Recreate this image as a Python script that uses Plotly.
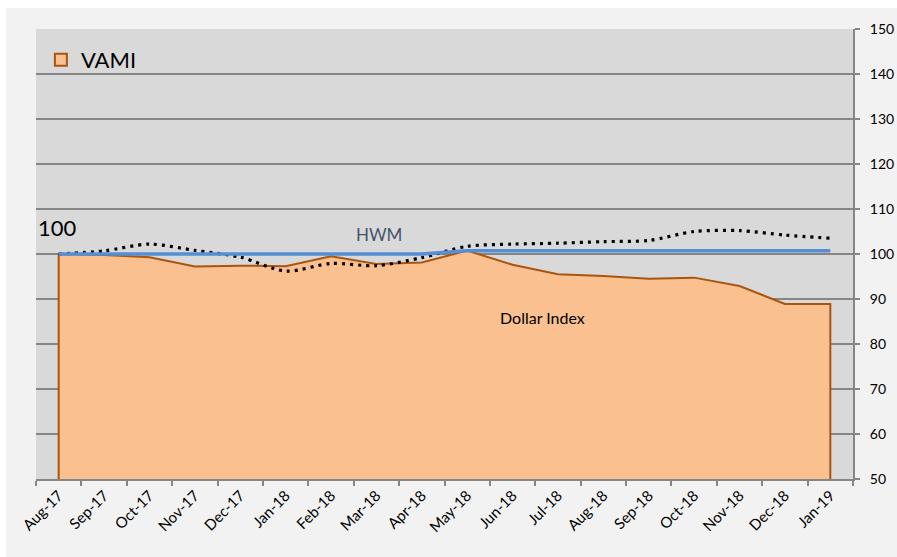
import plotly.graph_objects as go

months = ["Aug-17", "Sep-17", "Oct-17", "Nov-17", "Dec-17", "Jan-18", "Feb-18", "Mar-18",
          "Apr-18", "May-18", "Jun-18", "Jul-18", "Aug-18", "Sep-18", "Oct-18", "Nov-18",
          "Dec-18", "Jan-19"]
vami = [100.0, 99.8, 99.3, 97.2, 97.4, 97.3, 99.5, 97.8, 98.1, 100.75, 97.6, 95.5,
        95.1, 94.5, 94.75, 92.9, 88.9, 88.9]
hwm = [100.0, 100.0, 100.0, 100.0, 100.0, 100.0, 100.0, 100.0, 100.0, 100.75, 100.75,
       100.75, 100.75, 100.75, 100.75, 100.75, 100.75, 100.75]
dollar_index = [100.0, 100.7, 102.2, 100.8, 99.3, 96.2, 97.9, 97.4, 99.2, 101.7, 102.2,
                102.4, 102.75, 103.0, 105.0, 105.2, 104.2, 103.5]
y_ticks = [50, 60, 70, 80, 90, 100, 110, 120, 130, 140, 150]
base = 50

FONT = "Lato"
GRID = "#868686"
FILL = "#FAC090"
EDGE = "#A9550F"
W, H = 897, 557
ML, MR, MT, MB = 36, 44, 29, 78
PW, PH = W - ML - MR, H - MT - MB

fig = go.Figure()

# VAMI area with vertical edges down to the axis base
fig.add_trace(go.Scatter(
    x=[months[0]] + months + [months[-1]],
    y=[base] + vami + [base],
    mode="lines", fill="tozeroy", fillcolor=FILL,
    line=dict(color=EDGE, width=2),
    showlegend=False, hoverinfo="skip", cliponaxis=True,
))

# Dollar index (dotted, smoothed)
fig.add_trace(go.Scatter(
    x=months, y=dollar_index, mode="lines",
    line=dict(color="black", width=3.2, dash="3px,5px", shape="spline", smoothing=0.8),
    showlegend=False,
))

# HWM
fig.add_trace(go.Scatter(
    x=months, y=hwm, mode="lines",
    line=dict(color="#558ED5", width=3.5),
    showlegend=False,
))

# legend entry for VAMI
fig.add_trace(go.Bar(
    x=[months[0]], y=[None], name="VAMI",
    marker=dict(color=FILL, line=dict(color=EDGE, width=2)),
    showlegend=True,
))

fig.update_layout(
    width=W, height=H, autosize=False,
    margin=dict(l=ML, r=MR, t=MT, b=MB, pad=0, autoexpand=False),
    paper_bgcolor="#F2F2F2", plot_bgcolor="#D9D9D9",
    font=dict(family=FONT, color="black"),
    showlegend=True,
    legend=dict(x=0.006, y=0.931, xanchor="left", yanchor="middle",
                bgcolor="rgba(0,0,0,0)", font=dict(size=22, family=FONT),
                itemsizing="constant"),
    xaxis=dict(
        type="category", categoryorder="array", categoryarray=months,
        range=[-0.5, len(months) - 0.5], automargin=False,
        tickson="boundaries", ticks="outside", ticklen=5, tickwidth=1.5, tickcolor=GRID,
        showline=True, linecolor=GRID, linewidth=2, showgrid=False,
        tickangle=-45, tickfont=dict(size=15, family=FONT, color="black"),
        fixedrange=True,
    ),
    yaxis=dict(
        side="right", range=[50, 150], tickvals=y_ticks, automargin=False,
        showgrid=True, gridcolor=GRID, gridwidth=1.5, zeroline=False,
        showline=True, linecolor=GRID, linewidth=2,
        ticks="outside", ticklen=5, tickwidth=1.5, tickcolor=GRID,
        tickfont=dict(size=14, family=FONT, color="black"),
        ticklabelstandoff=7,
    ),
    shapes=[
        dict(type="rect", xref="paper", yref="paper",
             x0=-ML / PW, x1=(6 - ML) / PW, y0=-MB / PH, y1=(PH + MT) / PH,
             fillcolor="white", line=dict(width=0), layer="below"),
        dict(type="rect", xref="paper", yref="paper",
             x0=-ML / PW, x1=(W - ML) / PW, y0=(PH + MT - 8) / PH, y1=(PH + MT) / PH,
             fillcolor="white", line=dict(width=0), layer="below"),
    ],
    annotations=[
        dict(text="100", x=0.0, y=106, xref="paper", yref="y", xanchor="left",
             yanchor="middle", showarrow=False, font=dict(size=22, family=FONT, color="black")),
        dict(text="HWM", x=7.05, y=104.4, xref="x", yref="y", xanchor="center",
             yanchor="middle", showarrow=False, font=dict(size=17, family=FONT, color="#44546A")),
        dict(text="Dollar Index", x=10.67, y=86, xref="x", yref="y", xanchor="center",
             yanchor="middle", showarrow=False, font=dict(size=16, family=FONT, color="black")),
    ],
)

# place the figure at the page origin (no default body margin, no scrollbars)
post = ("document.documentElement.style.overflow='hidden';"
        "document.body.style.margin='0px';"
        "document.body.style.overflow='hidden';")

fig.write_html("out.html", config={"displayModeBar": False}, post_script=post)
